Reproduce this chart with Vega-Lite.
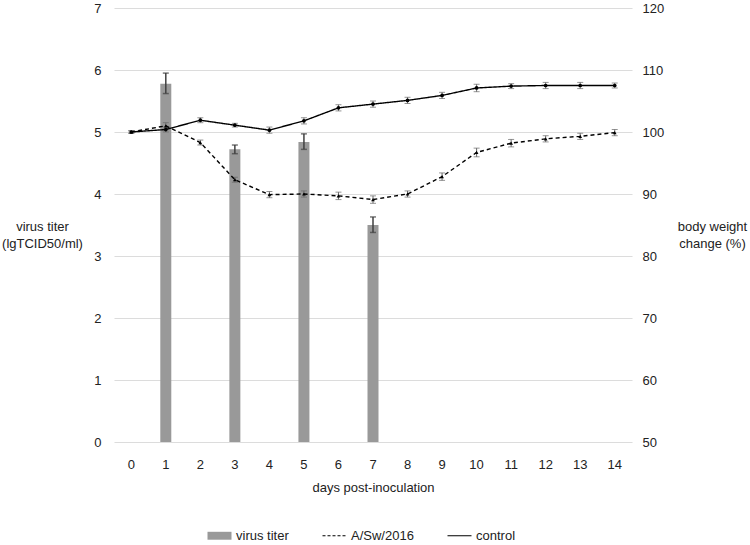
{
  "$schema": "https://vega.github.io/schema/vega-lite/v6.json",
  "autosize": "none",
  "width": 518,
  "height": 434,
  "padding": {"left": 114, "top": 8, "right": 118, "bottom": 103},
  "background": "white",
  "config": {
    "view": {"stroke": null},
    "font": "Liberation Sans",
    "axis": {"labelFont": "Liberation Sans", "titleFont": "Liberation Sans", "labelFontSize": 13, "titleFontSize": 13, "labelColor": "#222", "titleColor": "#222", "titleFontWeight": "normal", "ticks": false, "domain": false}
  },
  "datasets": {
    "titer": [
      {"day": 1, "titer": 5.78, "lo": 5.62, "hi": 5.95},
      {"day": 3, "titer": 4.72, "lo": 4.65, "hi": 4.79},
      {"day": 5, "titer": 4.84, "lo": 4.72, "hi": 4.97},
      {"day": 7, "titer": 3.5, "lo": 3.38, "hi": 3.63}
    ],
    "weight": [
      {"day": 0, "series": "control", "w": 100.0, "lo": 99.8, "hi": 100.2},
      {"day": 1, "series": "control", "w": 100.4, "lo": 100.0, "hi": 100.8},
      {"day": 2, "series": "control", "w": 101.9, "lo": 101.5, "hi": 102.3},
      {"day": 3, "series": "control", "w": 101.1, "lo": 100.8, "hi": 101.4},
      {"day": 4, "series": "control", "w": 100.3, "lo": 99.8, "hi": 100.8},
      {"day": 5, "series": "control", "w": 101.8, "lo": 101.3, "hi": 102.3},
      {"day": 6, "series": "control", "w": 103.9, "lo": 103.4, "hi": 104.4},
      {"day": 7, "series": "control", "w": 104.5, "lo": 104.0, "hi": 105.0},
      {"day": 8, "series": "control", "w": 105.1, "lo": 104.6, "hi": 105.6},
      {"day": 9, "series": "control", "w": 105.9, "lo": 105.4, "hi": 106.4},
      {"day": 10, "series": "control", "w": 107.1, "lo": 106.5, "hi": 107.7},
      {"day": 11, "series": "control", "w": 107.4, "lo": 107.0, "hi": 107.8},
      {"day": 12, "series": "control", "w": 107.5, "lo": 107.0, "hi": 108.0},
      {"day": 13, "series": "control", "w": 107.5, "lo": 107.0, "hi": 108.0},
      {"day": 14, "series": "control", "w": 107.5, "lo": 107.1, "hi": 107.9},
      {"day": 0, "series": "A/Sw/2016", "w": 100.0, "lo": 99.8, "hi": 100.2},
      {"day": 1, "series": "A/Sw/2016", "w": 101.0, "lo": 100.5, "hi": 101.5},
      {"day": 2, "series": "A/Sw/2016", "w": 98.3, "lo": 97.9, "hi": 98.7},
      {"day": 3, "series": "A/Sw/2016", "w": 92.3, "lo": 91.9, "hi": 92.7},
      {"day": 4, "series": "A/Sw/2016", "w": 89.9, "lo": 89.4, "hi": 90.4},
      {"day": 5, "series": "A/Sw/2016", "w": 90.0, "lo": 89.5, "hi": 90.5},
      {"day": 6, "series": "A/Sw/2016", "w": 89.7, "lo": 89.1, "hi": 90.3},
      {"day": 7, "series": "A/Sw/2016", "w": 89.1, "lo": 88.5, "hi": 89.7},
      {"day": 8, "series": "A/Sw/2016", "w": 90.0, "lo": 89.5, "hi": 90.5},
      {"day": 9, "series": "A/Sw/2016", "w": 92.8, "lo": 92.2, "hi": 93.4},
      {"day": 10, "series": "A/Sw/2016", "w": 96.7, "lo": 96.0, "hi": 97.4},
      {"day": 11, "series": "A/Sw/2016", "w": 98.2, "lo": 97.6, "hi": 98.8},
      {"day": 12, "series": "A/Sw/2016", "w": 98.9, "lo": 98.4, "hi": 99.4},
      {"day": 13, "series": "A/Sw/2016", "w": 99.3, "lo": 98.8, "hi": 99.8},
      {"day": 14, "series": "A/Sw/2016", "w": 99.9, "lo": 99.4, "hi": 100.4}
    ]
  },
  "encoding": {
    "x": {
      "field": "day", "type": "ordinal",
      "scale": {"domain": [0,1,2,3,4,5,6,7,8,9,10,11,12,13,14], "paddingInner": 0, "paddingOuter": 0},
      "axis": {"labelAngle": 0, "labelPadding": 16, "title": "days post-inoculation", "titlePadding": 10, "grid": false}
    }
  },
  "layer": [
    {
      "data": {"name": "titer"},
      "layer": [
        {
          "mark": {"type": "bar", "size": 11},
          "encoding": {
            "y": {"field": "titer", "type": "quantitative",
              "scale": {"domain": [0, 7], "nice": false},
              "axis": {"values": [0,1,2,3,4,5,6,7], "format": "d", "grid": true, "gridColor": "#dcdcdc", "gridWidth": 1.2, "labelPadding": 13,
                "title": ["virus titer", "(lgTCID50/ml)"], "titleAngle": 0, "titleAlign": "center", "titleBaseline": "middle",
                "titleX": -72, "titleY": 218, "titleLineHeight": 17}},
            "color": {"datum": "virus titer", "type": "nominal", "title": null,
              "scale": {"domain": ["virus titer", "A/Sw/2016", "control"], "range": ["#999999", "#000000", "#000000"]},
              "legend": {"title": null, "orient": "none", "legendX": 99, "legendY": 521, "direction": "horizontal",
                "symbolSize": 576, "labelFontSize": 13, "labelFont": "Liberation Sans", "labelColor": "#222",
                "columnPadding": 31, "labelOffset": 10,
                "encode": {"symbols": {"update": {
                  "shape": {"signal": "datum.value === 'virus titer' ? 'M-1,-0.33H1V0.33H-1Z' : 'M-1,-0.33L-1,-0.33M-1,0H1M1,0.33L1,0.33'"},
                  "stroke": {"signal": "datum.value === 'virus titer' ? 'transparent' : '#000000'"},
                  "fill": {"signal": "datum.value === 'virus titer' ? '#999999' : 'transparent'"},
                  "strokeWidth": {"signal": "datum.value === 'virus titer' ? 0 : 1.2"},
                  "strokeDash": {"signal": "datum.value === 'A/Sw/2016' ? [3, 2] : [1, 0]"},
                  "opacity": {"value": 1}
                }}}}}
          }
        },
        {
          "mark": {"type": "rule", "color": "#404040", "strokeWidth": 1.5},
          "encoding": {
            "y": {"field": "lo", "type": "quantitative"},
            "y2": {"field": "hi"}
          }
        },
        {
          "transform": [{"fold": ["lo", "hi"], "as": ["k", "v"]}],
          "mark": {"type": "tick", "color": "#404040", "thickness": 1.5, "size": 6},
          "encoding": {
            "y": {"field": "v", "type": "quantitative"}
          }
        }
      ]
    },
    {
      "data": {"name": "weight"},
      "layer": [
        {
          "mark": {"type": "rule", "color": "#666666", "strokeWidth": 1},
          "encoding": {
            "y": {"field": "lo", "type": "quantitative",
              "scale": {"domain": [50, 120], "nice": false},
              "axis": {"orient": "right", "values": [50,60,70,80,90,100,110,120], "grid": false, "labelPadding": 10,
                "title": ["body weight", "change (%)"], "titleAngle": 0, "titleAlign": "center", "titleBaseline": "middle",
                "titleX": 80, "titleY": 218, "titleLineHeight": 17}},
            "y2": {"field": "hi"},
            "detail": {"field": "series"}
          }
        },
        {
          "transform": [{"fold": ["lo", "hi"], "as": ["k", "v"]}],
          "mark": {"type": "tick", "color": "#666666", "thickness": 1, "size": 6},
          "encoding": {
            "y": {"field": "v", "type": "quantitative"},
            "detail": {"field": "series"}
          }
        },
        {
          "mark": {"type": "line", "strokeWidth": 1.4},
          "encoding": {
            "y": {"field": "w", "type": "quantitative"},
            "color": {"field": "series", "type": "nominal", "title": null},
            "strokeDash": {"field": "series", "type": "nominal",
              "scale": {"domain": ["A/Sw/2016", "control"], "range": [[4, 3], [1, 0]]}, "legend": null}
          }
        },
        {
          "mark": {"type": "point", "filled": true, "opacity": 1, "size": 14},
          "encoding": {
            "y": {"field": "w", "type": "quantitative"},
            "color": {"field": "series", "type": "nominal", "title": null},
            "shape": {"field": "series", "type": "nominal",
              "scale": {"domain": ["A/Sw/2016", "control"], "range": ["triangle-up", "circle"]}, "legend": null}
          }
        }
      ]
    }
  ],
  "resolve": {"scale": {"y": "independent"}}
}
